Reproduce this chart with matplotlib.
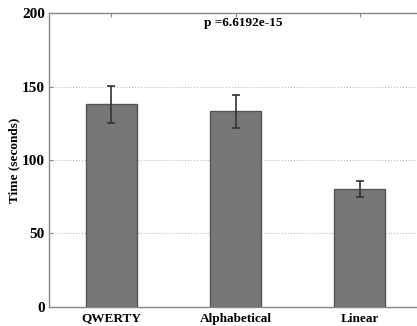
import matplotlib
matplotlib.use('Agg')
import matplotlib.pyplot as plt
import numpy as np

# data
layouts = ['QWERTY', 'Alphabetical', 'Linear']
mean_time = [138, 133, 80]
err_time = [12.5, 11.5, 5.5]
p_text = 'p =6.6192e-15'

plt.rcParams['font.family'] = ['Liberation Serif', 'DejaVu Serif']
plt.rcParams['font.weight'] = 'bold'

fig = plt.figure(figsize=(4.17, 3.26), dpi=100)
ax = fig.add_axes([0.1175, 0.0583, 0.8945, 0.9018])

x = np.arange(1, len(layouts) + 1)
ax.bar(x, mean_time, width=0.41, color='#777777', edgecolor='#555555', linewidth=1, zorder=2)
ax.errorbar(x, mean_time, yerr=err_time, fmt='none', ecolor='#333333',
            elinewidth=1.2, capsize=3, capthick=1.2, zorder=3)

ax.set_xlim(0.5, 3.5)
ax.set_ylim(0, 200)
ax.set_yticks([0, 50, 100, 150, 200])
ax.set_xticks(x)
ax.set_xticklabels(layouts)
ax.tick_params(axis='both', direction='in', length=3, color='#888888')
ax.tick_params(axis='y', labelsize=11, pad=3)
ax.tick_params(axis='x', labelsize=9.5, pad=4, top=True)
ax.yaxis.grid(True, linestyle=':', color='#bbbbbb', linewidth=0.8, zorder=0)
ax.set_axisbelow(True)
for s in ax.spines.values():
    s.set_color('#888888')
    s.set_linewidth(1)

ax.set_ylabel('Time (seconds)', fontsize=9.5, fontweight='bold', labelpad=1)
# p value sits just right of the middle bar centre
ax.text(2.06, 197, p_text, ha='center', va='top', fontsize=9.5, fontweight='bold')

fig.savefig('out.png', dpi=100)
